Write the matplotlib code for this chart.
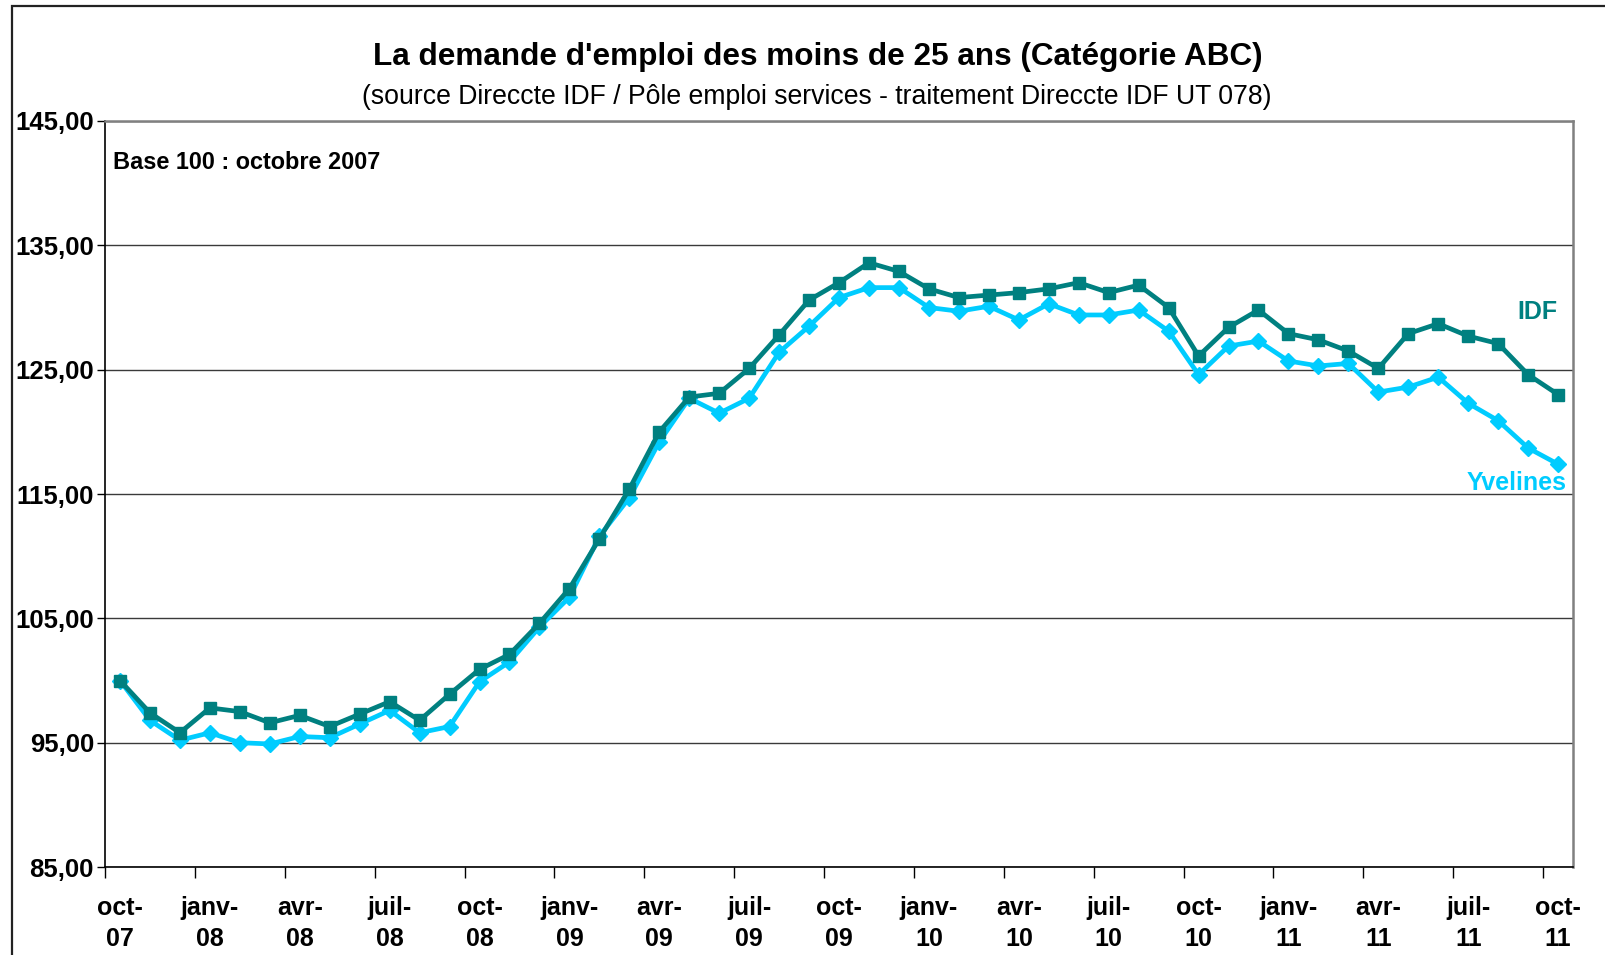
import matplotlib
matplotlib.use("Agg")
import matplotlib.pyplot as plt
from matplotlib.ticker import FixedLocator, FuncFormatter
from matplotlib.patches import Rectangle

plt.rcParams['font.family'] = ['Liberation Sans', 'DejaVu Sans']

# monthly index, base 100 = octobre 2007 (oct-07 .. oct-11)
idf = [100.0, 97.4, 95.8, 97.8, 97.5, 96.6, 97.2, 96.3, 97.3, 98.3, 96.8, 98.9,
       100.9, 102.1, 104.6, 107.4, 111.4, 115.4, 120.0, 122.8, 123.1, 125.1, 127.8, 130.6,
       132.0, 133.6, 132.9, 131.5, 130.8, 131.0, 131.2, 131.5, 132.0, 131.2, 131.8, 130.0,
       126.1, 128.4, 129.8, 127.9, 127.4, 126.5, 125.1, 127.9, 128.7, 127.7, 127.1, 124.6,
       123.0]
yvelines = [100.0, 96.8, 95.2, 95.8, 95.0, 94.9, 95.5, 95.4, 96.5, 97.6, 95.8, 96.3,
            99.9, 101.5, 104.3, 106.7, 111.6, 114.7, 119.2, 122.7, 121.5, 122.7, 126.4, 128.5,
            130.8, 131.6, 131.6, 130.0, 129.7, 130.1, 129.0, 130.3, 129.4, 129.4, 129.8, 128.1,
            124.6, 126.9, 127.3, 125.7, 125.3, 125.5, 123.2, 123.6, 124.4, 122.3, 120.9, 118.7,
            117.4]

month_names = ['oct', 'janv', 'avr', 'juil']
years = ['07', '08', '08', '08', '08', '09', '09', '09', '09', '10', '10', '10', '10',
         '11', '11', '11', '11']
tick_labels = [month_names[k % 4] + '-\n' + years[k] for k in range(len(years))]

y_ticks = [85, 95, 105, 115, 125, 135, 145]

x = list(range(len(idf)))

fig = plt.figure(figsize=(16.06, 9.55), dpi=100)
ax = fig.add_axes([0.0654, 0.0921, 0.9141, 0.7812])

ax.plot(x, yvelines, color='#00CCFF', lw=3.4, marker='D', markersize=8,
        solid_joinstyle='round', zorder=3)
ax.plot(x, idf, color='#008080', lw=3.4, marker='s', markersize=9,
        solid_joinstyle='round', zorder=4)

ax.set_xlim(-0.5, len(idf) - 0.5)
ax.set_ylim(85, 145)

# y axis
ax.yaxis.set_major_locator(FixedLocator(y_ticks))
ax.yaxis.set_major_formatter(FuncFormatter(lambda v, p: f"{v:.2f}".replace('.', ',')))
ax.grid(axis='y', color='#3a3a3a', lw=1.0)
ax.set_axisbelow(True)
ax.tick_params(axis='y', direction='out', length=6, width=1, pad=2,
               labelsize=18.5, colors='black')
for t in ax.get_yticklabels():
    t.set_fontweight('bold')

# x axis: marks on category boundaries every 3 months, labels at the months
ax.xaxis.set_major_locator(FixedLocator([i - 0.5 for i in range(0, len(idf), 3)]))
ax.xaxis.set_major_formatter(FuncFormatter(lambda v, p: ''))
ax.xaxis.set_minor_locator(FixedLocator(list(range(0, len(idf), 3))))
ax.set_xticklabels(tick_labels, minor=True)
ax.tick_params(axis='x', which='major', direction='out', length=8, width=1)
ax.tick_params(axis='x', which='minor', length=0, pad=20.5, labelsize=18)
for t in ax.get_xticklabels(minor=True):
    t.set_fontweight('bold')
    t.set_linespacing(1.4)
    t.set_multialignment('center')

for s in ['left', 'bottom']:
    ax.spines[s].set_color('black')
    ax.spines[s].set_linewidth(1.2)
for s in ['top', 'right']:
    ax.spines[s].set_color('#808080')
    ax.spines[s].set_linewidth(1.8)

ax.text(0.0054, 0.945, 'Base 100 : octobre 2007', transform=ax.transAxes,
        fontsize=16.9, fontweight='bold', ha='left', va='center')
ax.text(47.3, 129.6, 'IDF', color='#008080', fontsize=18, fontweight='bold',
        ha='center', va='center')
ax.text(46.6, 115.9, 'Yvelines', color='#00CCFF', fontsize=18, fontweight='bold',
        ha='center', va='center')

fig.text(0.509, 1 - 57 / 955, "La demande d'emploi des moins de 25 ans (Catégorie ABC)",
         fontsize=22.7, fontweight='bold', ha='center', va='center')
fig.text(0.5085, 1 - 97 / 955,
         "(source Direccte IDF / Pôle emploi services - traitement Direccte IDF UT 078)",
         fontsize=19.2, ha='center', va='center')

# outer chart frame
fig.patches.append(Rectangle((12 / 1606, -0.01), 1.0, 1 - 6 / 955 + 0.01,
                             transform=fig.transFigure, fill=False,
                             edgecolor='#222222', lw=1.6))

fig.savefig('out.png', dpi=100)
